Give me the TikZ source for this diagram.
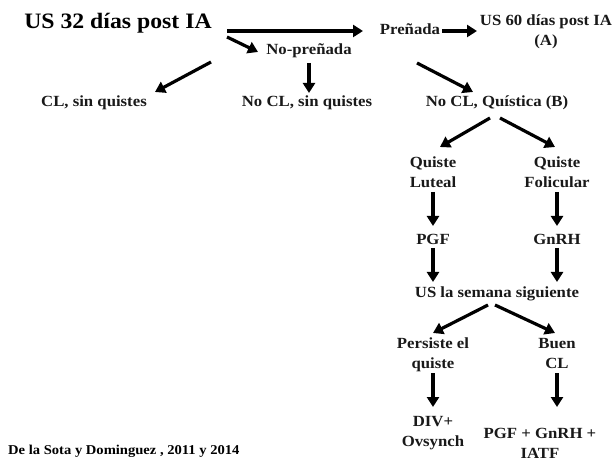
\documentclass[tikz,border=0pt]{standalone}
\usepackage{fontspec}
\setmainfont[FakeStretch=1.08]{Liberation Serif}
\usetikzlibrary{arrows.meta}
\tikzset{
  lbl/.style={font=\bfseries\fontsize{15.5}{20}\selectfont, inner sep=0pt, align=center, text=black!90, anchor=base},
  big/.style={font=\bfseries\fontsize{22}{26}\selectfont, inner sep=0pt, anchor=base},
  cite/.style={font=\bfseries\fontsize{13.5}{15}\selectfont, inner sep=0pt, anchor=base west},
  arr/.style={line width=3.2pt, -{Triangle[length=10pt,width=12pt]}},
}
\begin{document}
\begin{tikzpicture}[x=1pt,y=-1pt]
\useasboundingbox (0,0) rectangle (613,462);
% nodes (anchored at baseline of last line)
\node[big] (us32) at (118,29) {US 32 días post IA};
\node[lbl] (pren) at (410,35) {Preñada};
\node[lbl] (us60) at (546,46) {US 60 días post IA\\(A)};
\node[lbl] (nopren) at (309,55) {No-preñada};
\node[lbl] (cl) at (94,107) {CL, sin quistes};
\node[lbl] (nocl) at (307,107) {No CL, sin quistes};
\node[lbl] (quis) at (497,107) {No CL, Quística (B)};
\node[lbl] (lut) at (433,188) {Quiste\\Luteal};
\node[lbl] (fol) at (557,188) {Quiste\\Folicular};
\node[lbl] (pgf) at (433,245) {PGF};
\node[lbl] (gnrh) at (557,245) {GnRH};
\node[lbl] (sem) at (497,298) {US la semana siguiente};
\node[lbl] (pers) at (433,368) {Persiste el\\quiste};
\node[lbl] (buen) at (557,368) {Buen\\CL};
\node[lbl] (div) at (433,446) {DIV+\\Ovsynch};
\node[lbl] (iatf) at (540,458) {PGF + GnRH +\\IATF};
\node[cite] (cite) at (8,454) {De la Sota y Dominguez , 2011 y 2014};
% arrow endpoints
\coordinate (a1s) at (227,31); \coordinate (a1e) at (363,31);
\coordinate (a2s) at (442,31); \coordinate (a2e) at (477,31);
\coordinate (a3s) at (227,37); \coordinate (a3e) at (258,52);
\coordinate (a4s) at (211,62); \coordinate (a4e) at (155,92);
\coordinate (a5s) at (309,63); \coordinate (a5e) at (309,93);
\coordinate (a6s) at (417,63); \coordinate (a6e) at (473,92);
\coordinate (a7s) at (490,118); \coordinate (a7e) at (440,147);
\coordinate (a8s) at (500,118); \coordinate (a8e) at (555,147);
\coordinate (b1s) at (433,192); \coordinate (b1e) at (433,226);
\coordinate (b2s) at (557,192); \coordinate (b2e) at (557,226);
\coordinate (b3s) at (433,248); \coordinate (b3e) at (433,282);
\coordinate (b4s) at (557,248); \coordinate (b4e) at (557,282);
\coordinate (a9s) at (488,305); \coordinate (a9e) at (433,333);
\coordinate (a10s) at (495,305); \coordinate (a10e) at (555,333);
\coordinate (c1s) at (433,373); \coordinate (c1e) at (433,407);
\coordinate (c2s) at (557,373); \coordinate (c2e) at (557,407);
% connectors
\draw[arr] (a1s) -- (a1e);
\draw[arr] (a2s) -- (a2e);
\draw[arr] (a3s) -- (a3e);
\draw[arr] (a4s) -- (a4e);
\draw[arr] (a5s) -- (a5e);
\draw[arr] (a6s) -- (a6e);
\draw[arr] (a7s) -- (a7e);
\draw[arr] (a8s) -- (a8e);
\draw[arr] (b1s) -- (b1e);
\draw[arr] (b2s) -- (b2e);
\draw[arr] (b3s) -- (b3e);
\draw[arr] (b4s) -- (b4e);
\draw[arr] (a9s) -- (a9e);
\draw[arr] (a10s) -- (a10e);
\draw[arr] (c1s) -- (c1e);
\draw[arr] (c2s) -- (c2e);
\end{tikzpicture}
\end{document}
